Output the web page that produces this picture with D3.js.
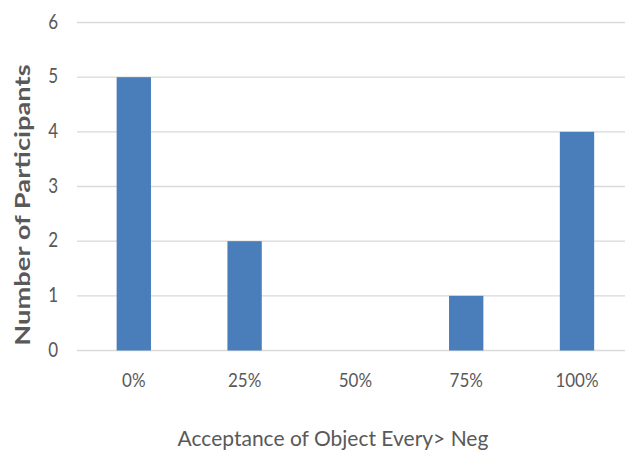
<!DOCTYPE html>
<html><head><meta charset="utf-8">
<script src="https://cdn.jsdelivr.net/npm/d3@7"></script>
<style>body{margin:0;background:#fff}svg{display:block}text{font-family:Lato,"Open Sans",sans-serif}</style>
</head><body><svg id="c" width="625" height="450"></svg>
<script>
const categories = ["0%","25%","50%","75%","100%"];
const values = [5,2,0,1,4];
const yTicks = [0,1,2,3,4,5,6];
const xTitle = "Acceptance of Object Every> Neg";
const yTitle = "Number of Participants";

const svg = d3.select("#c");
const x = d3.scaleBand().domain(categories).range([78.4, 632.4]).paddingInner(0.69).paddingOuter(0.345);
const y = d3.scaleLinear().domain([0,6]).range([350.5, 22.5]);

svg.append("g").selectAll("line").data(yTicks).join("line")
  .attr("x1",77).attr("x2",625).attr("y1",d=>y(d)).attr("y2",d=>y(d))
  .attr("stroke","#d9d9d9").attr("stroke-width",1.3);

svg.append("g").selectAll("rect").data(values).join("rect")
  .attr("x",(d,i)=>x(categories[i])).attr("width",x.bandwidth())
  .attr("y",d=>y(d)).attr("height",d=>y(0)-y(d)).attr("fill","#4a7ebb");

const yAxis = svg.append("g").attr("transform","translate(62,0)")
  .call(d3.axisLeft(y).tickValues(yTicks).tickSize(0).tickPadding(4).tickFormat(d3.format("d")));
yAxis.select(".domain").remove();
yAxis.selectAll("text").attr("font-size",17).attr("fill","#595959").style("font-family","Lato")
  .attr("transform","scale(1,1.2)").attr("dy","0.27em");

const xAxis = svg.append("g").attr("transform","translate(0,350.5)")
  .call(d3.axisBottom(x).tickSize(0).tickPadding(24));
xAxis.select(".domain").remove();
xAxis.selectAll("text").attr("font-size",17).attr("fill","#595959").style("font-family","Lato")
  .attr("transform","scale(1,1.15)").attr("y",20);

svg.append("text").attr("x",333).attr("y",446).attr("text-anchor","middle")
  .attr("font-size",21).attr("fill","#595959").text(xTitle);
svg.append("text").attr("transform","translate(30,205) rotate(-90) scale(1.3,1)").attr("text-anchor","middle")
  .attr("font-size",21).attr("font-weight","bold").attr("fill","#595959").text(yTitle);
</script></body></html>
